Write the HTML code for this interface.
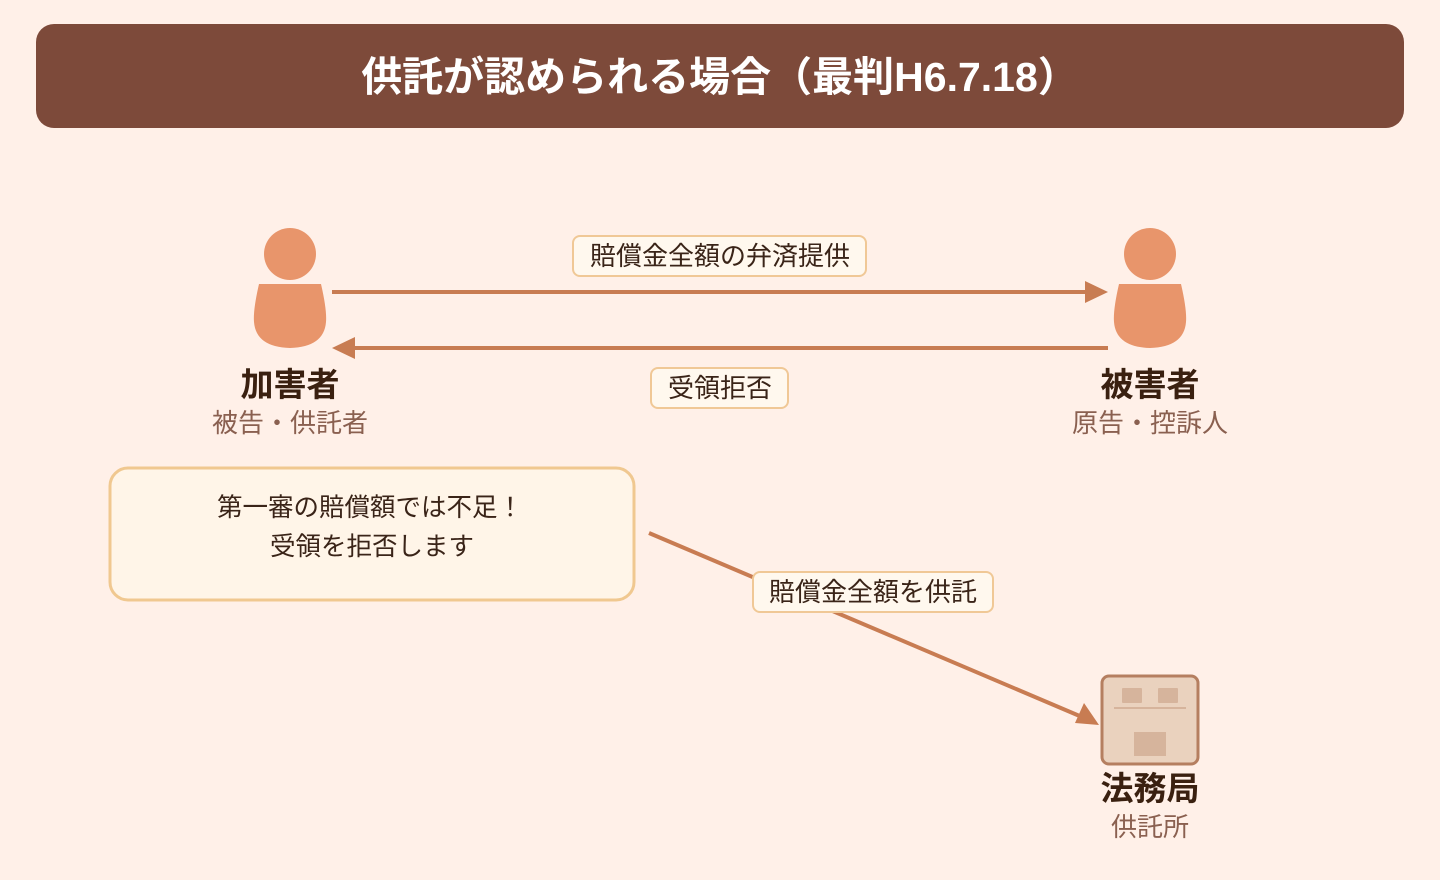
<!DOCTYPE html>
<html><head><meta charset="utf-8"><style>
html,body{margin:0;padding:0;background:#fff0e8;}
svg{display:block;font-family:"Liberation Sans","Noto Sans CJK JP",sans-serif;}
</style></head><body>
<svg width="1440" height="880" viewBox="0 0 1440 880" xmlns="http://www.w3.org/2000/svg">
<rect width="1440" height="880" fill="#fff0e8"/>
<rect x="36" y="24" width="1368" height="104" rx="18" fill="#7d4a3a"/>
<text x="720" y="91" text-anchor="middle" font-size="41" font-weight="bold" fill="#fff">供託が認められる場合（最判H6.7.18）</text>

<g fill="#e8956b">
<circle cx="290" cy="254" r="26"/>
<path d="M259 284 H321 Q327 310 326 322 Q324 347 290 348 Q256 347 254 322 Q253 310 259 284 Z"/>
<circle cx="1150" cy="254" r="26"/>
<path d="M1119 284 H1181 Q1187 310 1186 322 Q1184 347 1150 348 Q1116 347 1114 322 Q1113 310 1119 284 Z"/>
</g>

<g stroke="#c87c52" stroke-width="4" fill="none">
<line x1="332" y1="292" x2="1090" y2="292"/>
<line x1="1108" y1="348" x2="352" y2="348"/>
<line x1="649" y1="533" x2="1082" y2="717"/>
</g>
<g fill="#c87c52">
<polygon points="1108,292 1085,281 1085,303"/>
<polygon points="332,348 355,337 355,359"/>
<polygon points="1099,725 1075,723 1084,703"/>
</g>

<g stroke="#f0c896" stroke-width="2" fill="#fff8ee">
<rect x="573" y="236" width="293" height="40" rx="7"/>
<rect x="651" y="368" width="137" height="40" rx="7"/>
<rect x="753" y="572" width="240" height="40" rx="7"/>
</g>
<g font-size="26" fill="#3a2418" text-anchor="middle">
<text x="720" y="265">賠償金全額の弁済提供</text>
<text x="720" y="397">受領拒否</text>
<text x="873" y="601">賠償金全額を供託</text>
</g>

<g text-anchor="middle">
<text x="290" y="396" font-size="33" font-weight="bold" fill="#3a2010">加害者</text>
<text x="290" y="432" font-size="26" fill="#8a6050">被告・供託者</text>
<text x="1150" y="396" font-size="33" font-weight="bold" fill="#3a2010">被害者</text>
<text x="1150" y="432" font-size="26" fill="#8a6050">原告・控訴人</text>
<text x="1150" y="800" font-size="33" font-weight="bold" fill="#3a2010">法務局</text>
<text x="1150" y="836" font-size="26" fill="#8a6050">供託所</text>
</g>

<rect x="110" y="468" width="524" height="132" rx="18" fill="#fff5e8" stroke="#f0c890" stroke-width="3"/>
<g font-size="25.5" fill="#3a2418" text-anchor="middle">
<text x="370" y="516">第一審の賠償額では不足！</text>
<text x="372" y="555">受領を拒否します</text>
</g>

<rect x="1102" y="676" width="96" height="88" rx="7" fill="#ead2be" stroke="#b57f60" stroke-width="3"/>
<g fill="#d6b49c">
<rect x="1122" y="688" width="20" height="15" rx="1"/>
<rect x="1158" y="688" width="20" height="15" rx="1"/>
<rect x="1134" y="732" width="32" height="24"/>
</g>
<line x1="1114" y1="708" x2="1186" y2="708" stroke="#d6b49c" stroke-width="2"/>
</svg>
</body></html>
